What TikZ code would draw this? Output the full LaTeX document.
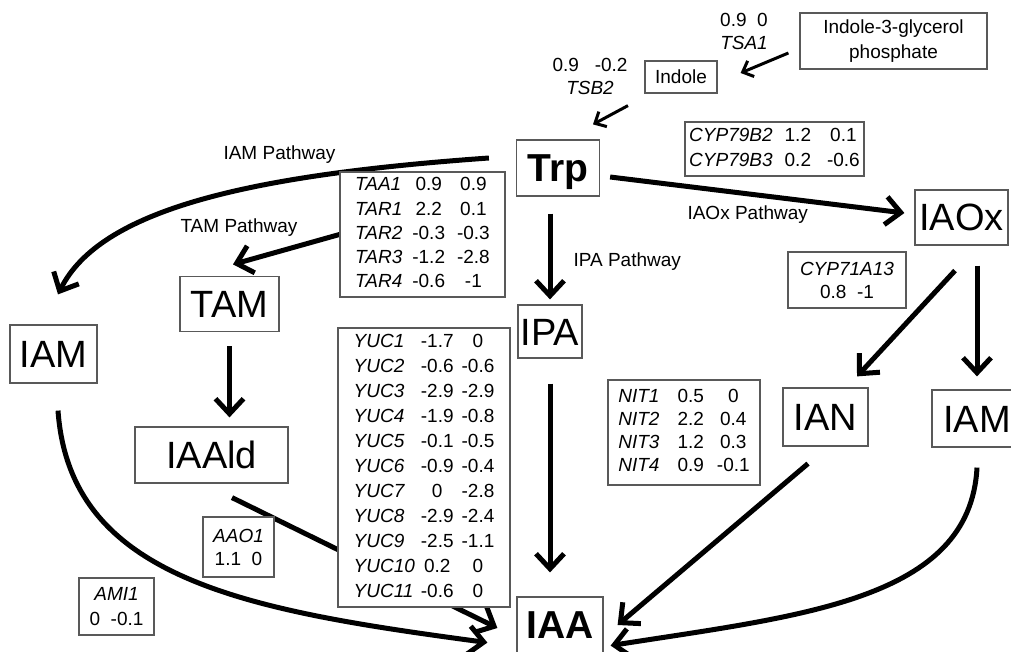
\documentclass[tikz,border=0pt]{standalone}
\usepackage{fontspec}
\setmainfont{Liberation Sans}
\usetikzlibrary{arrows.meta,backgrounds}

\tikzset{
  box/.style={draw=black!65, line width=1.2pt, fill=white, inner sep=0pt},
  metab/.style={box, font=\fontsize{38}{40}\selectfont, text height=27pt, text depth=0pt},
  genebox/.style={box, font=\fontsize{19}{24.3}\selectfont, align=center},
  lbl/.style={font=\fontsize{19}{23}\selectfont},
  flow/.style={line width=5pt, -{Straight Barb[length=15pt,width=28pt]}},
  smallflow/.style={line width=3pt, -{Straight Barb[length=9pt,width=17pt]}}
}

\begin{document}
\begin{tikzpicture}[x=1pt,y=-1pt]
  \useasboundingbox (0,0) rectangle (1011,652);

  %metabolites
  \node[metab, font=\fontsize{39}{40}\selectfont\bfseries, minimum width=83, minimum height=56] (Trp) at (558,168) {Trp};
  \node[metab, minimum width=93, minimum height=55] (IAOx) at (961.5,217.5) {IAOx};
  \node[metab, minimum width=64, minimum height=53] (IPA) at (550,331.5) {IPA};
  \node[metab, minimum width=99, minimum height=55] (TAM) at (229.5,304) {TAM};
  \node[metab, minimum width=87, minimum height=58] (IAMl) at (53.5,354) {IAM};
  \node[metab, minimum width=153, minimum height=56] (IAAld) at (211.5,455) {IAAld};
  \node[metab, minimum width=85, minimum height=58] (IAN) at (825.5,417) {IAN};
  \node[metab, minimum width=90, minimum height=57] (IAMr) at (977,418.5) {IAM};
  \node[metab, font=\fontsize{39}{40}\selectfont\bfseries, minimum width=86, minimum height=56] (IAA) at (560,625) {IAA};

  \node[genebox, minimum width=187, minimum height=56] (IGP) at (893.5,41) {Indole-3-glycerol\\phosphate};
  \node[genebox, minimum width=72, minimum height=32] (Indole) at (681,77) {Indole};

  %genes
  \node[lbl, align=center] (tsa) at (744,31) {0.9\ \ 0\\\textit{TSA1}};
  \node[lbl, align=center] (tsb) at (590,76) {0.9\ \ \ -0.2\\\textit{TSB2}};

  \node[genebox, minimum width=179, minimum height=54] (cyp79) at (774.5,149) {\begin{tabular}{@{}l@{\hspace{12pt}}c@{\hspace{16pt}}c@{}}
    \textit{CYP79B2} & 1.2 & 0.1\\
    \textit{CYP79B3} & 0.2 & -0.6
  \end{tabular}};
  \node[genebox, minimum width=165, minimum height=125] (TAA) at (422.5,234.5) {\begin{tabular}{@{}l@{\hspace{10pt}}c@{\hspace{12pt}}c@{}}
    \textit{TAA1} & 0.9 & 0.9\\
    \textit{TAR1} & 2.2 & 0.1\\
    \textit{TAR2} & -0.3 & -0.3\\
    \textit{TAR3} & -1.2 & -2.8\\
    \textit{TAR4} & -0.6 & -1
  \end{tabular}};
  \node[genebox, font=\fontsize{19}{25}\selectfont, minimum width=172, minimum height=279] (YUC) at (424,467.5) {\begin{tabular}{@{}l@{\hspace{6pt}}c@{\hspace{8pt}}c@{}}
    \textit{YUC1} & -1.7 & 0\\
    \textit{YUC2} & -0.6 & -0.6\\
    \textit{YUC3} & -2.9 & -2.9\\
    \textit{YUC4} & -1.9 & -0.8\\
    \textit{YUC5} & -0.1 & -0.5\\
    \textit{YUC6} & -0.9 & -0.4\\
    \textit{YUC7} & 0 & -2.8\\
    \textit{YUC8} & -2.9 & -2.4\\
    \textit{YUC9} & -2.5 & -1.1\\
    \textit{YUC10} & 0.2 & 0\\
    \textit{YUC11} & -0.6 & 0
  \end{tabular}};
  \node[genebox, font=\fontsize{19}{22.7}\selectfont, minimum width=152, minimum height=105] (NIT) at (684,432.5) {\begin{tabular}{@{}l@{\hspace{18pt}}c@{\hspace{13pt}}c@{}}
    \textit{NIT1} & 0.5 & 0\\
    \textit{NIT2} & 2.2 & 0.4\\
    \textit{NIT3} & 1.2 & 0.3\\
    \textit{NIT4} & 0.9 & -0.1
  \end{tabular}};
  \node[genebox, font=\fontsize{19}{23}\selectfont, minimum width=118, minimum height=56] (cyp71) at (847,280) {\textit{CYP71A13}\\0.8\ \ -1};
  \node[genebox, font=\fontsize{19}{23}\selectfont, minimum width=71, minimum height=60] (AAO) at (238.5,547) {\textit{AAO1}\\1.1\ \ 0};
  \node[genebox, font=\fontsize{19}{25}\selectfont, minimum width=75, minimum height=57] (AMI) at (116.5,606.5) {\textit{AMI1}\\0\ \ -0.1};

  %pathway labels
  \node[lbl, anchor=base west] (iamlbl) at (220,160) {IAM Pathway};
  \node[lbl, anchor=base west] (tamlbl) at (177,233) {TAM Pathway};
  \node[lbl, anchor=base west] (iaoxlbl) at (684,220) {IAOx Pathway};
  \node[lbl, anchor=base west] (ipalbl) at (570,266) {IPA Pathway};

  %arrows
  \begin{pgfonlayer}{background}
  \draw[smallflow] ([xshift=-11pt,yshift=-12pt]IGP.west) -- ([xshift=23pt,yshift=4pt]Indole.east);
  \draw[smallflow] ([xshift=-53pt,yshift=-12pt]Indole.south) -- ([xshift=35pt,yshift=15pt]Trp.north);

  \draw[flow] ([xshift=-27pt,yshift=10pt]Trp.west) .. controls +(-240,17) and +(42,-85) .. ([xshift=4.5pt,yshift=30pt]IAMl.north);
  \draw[flow] (TAA.west) -- ([xshift=3.5pt,yshift=11.5pt]TAM.north);
  \draw[flow] ([xshift=10pt,yshift=-9pt]Trp.east) -- ([xshift=-10pt,yshift=4.5pt]IAOx.west);
  \draw[flow, shorten <=17pt, shorten >=5pt] (Trp.south -| IPA.north) -- (IPA.north);

  \draw[flow, shorten <=25pt, shorten >=24pt] (IPA.south) -- (IPA.south |- IAA.north);
  \draw[flow] ([xshift=-6.5pt,yshift=-25pt]IAOx.south) -- ([xshift=31.5pt,yshift=11pt]IAN.north);
  \draw[flow, shorten <=20pt, shorten >=13pt] (IAOx.south -| IAMr.north) -- (IAMr.north);
  \draw[flow, shorten <=14pt, shorten >=9pt] (TAM.south) -- (TAM.south |- IAAld.north);

  \draw[flow] ([xshift=20.5pt,yshift=-14pt]IAAld.south) -- ([xshift=-19pt,yshift=-3pt]IAA.west);
  \draw[flow] ([xshift=4.5pt,yshift=-27pt]IAMl.south) .. controls +(12,170) and +(-238,-32) .. ([xshift=-29pt,yshift=11pt]IAA.south west);
  \draw[flow] ([xshift=-17.5pt,yshift=-17pt]IAN.south) -- ([xshift=14pt]IAA.east);
  \draw[flow] ([yshift=-20pt]IAMr.south) .. controls +(-7,133) and +(190,-30) .. ([xshift=7pt,yshift=8pt]IAA.south east);
  \end{pgfonlayer}
\end{tikzpicture}
\end{document}
